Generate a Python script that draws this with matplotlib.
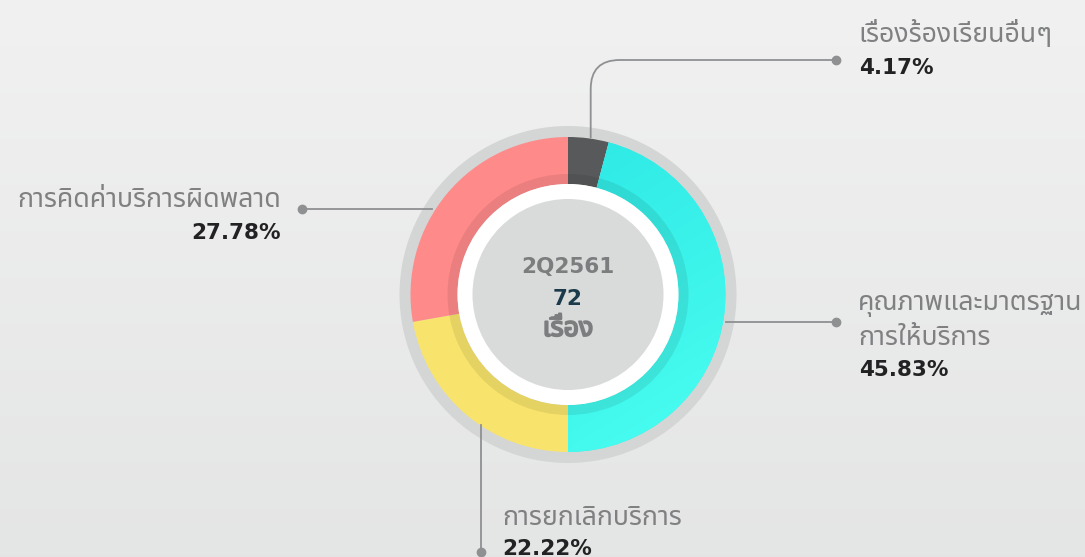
import matplotlib
matplotlib.use("Agg")
import matplotlib.pyplot as plt
import matplotlib.patheffects as pe
import numpy as np
from matplotlib.patches import Circle, Wedge, PathPatch
from matplotlib.path import Path

# ---- data ----
categories = ["เรื่องร้องเรียนอื่นๆ", "คุณภาพและมาตรฐาน\nการให้บริการ", "การยกเลิกบริการ", "การคิดค่าบริการผิดพลาด"]
shares = [4.17, 45.83, 22.22, 27.78]
pct_labels = ["4.17%", "45.83%", "22.22%", "27.78%"]
colors = ["#58595b", "#3cf2ea", "#f8e46c", "#ff8a8a"]
period = "2Q2561"
total = "72"
unit = "เรื่อง"

W, H = 1085, 557
fig = plt.figure(figsize=(W / 100, H / 100), dpi=100)
ax = fig.add_axes([0, 0, 1, 1])
ax.set_axis_off()

def Y(p):
    return H - p

# background gradient
grad = np.linspace(0, 1, 256).reshape(-1, 1)
top = np.array([0.945, 0.945, 0.945])
bot = np.array([0.895, 0.898, 0.898])
img = top + (bot - top) * grad[..., None]
ax.imshow(img, extent=[0, W, 0, H], origin='upper', aspect='auto', zorder=0)

cx, cy = 568, Y(294.5)
R_gray, R_out, R_in, R_shadow, R_white, R_center = 168.5, 157.5, 110.5, 120.5, 110.5, 95.5

ax.add_patch(Circle((cx, cy), R_gray, color="#d4d5d5", lw=0, zorder=1))
wedges, _ = ax.pie(shares, colors=colors, startangle=90, counterclock=False, radius=R_out,
                   center=(cx, cy), wedgeprops=dict(width=R_out - R_in, linewidth=0, zorder=2))

# subtle diagonal gradient on the cyan slice
n = 200
gy, gx = np.mgrid[0:1:n * 1j, 0:1:n * 1j]
t = np.clip(0.75 * gy + 0.45 * gx - 0.1, 0, 1)[..., None]
c0 = np.array([0x2a, 0xe6, 0xe4]) / 255
c1 = np.array([0x48, 0xfc, 0xef]) / 255
gimg = c0 + (c1 - c0) * t
im = ax.imshow(gimg, extent=[cx - R_out, cx + R_out, cy - R_out, cy + R_out],
               origin='upper', aspect='auto', zorder=2.5)
im.set_clip_path(wedges[1])

ax.add_patch(Wedge((cx, cy), R_shadow, 0, 360, width=R_shadow - R_in, color="black", alpha=0.08, lw=0, zorder=3))
ax.add_patch(Circle((cx, cy), R_white, color="white", lw=0, zorder=4))
ax.add_patch(Circle((cx, cy), R_center, color="#d9dada", lw=0, zorder=5))

ax.set_xlim(0, W)
ax.set_ylim(0, H)
ax.set_aspect('equal')

lc = "#8f9092"
lw = 1.3
ms = 6
# leader lines
x0, r = 590.7, 29
verts = [(x0, Y(138)), (x0, Y(60 + r)), (x0, Y(60)), (x0 + r, Y(60)), (836, Y(60))]
codes = [Path.MOVETO, Path.LINETO, Path.CURVE3, Path.CURVE3, Path.LINETO]
ax.add_patch(PathPatch(Path(verts, codes), fill=False, ec=lc, lw=lw, zorder=6))
ax.plot([836], [Y(60)], 'o', color=lc, ms=ms, zorder=7)
ax.plot([726, 836], [Y(322), Y(322)], color=lc, lw=lw, zorder=6)
ax.plot([836], [Y(322)], 'o', color=lc, ms=ms, zorder=7)
ax.plot([302, 432], [Y(209.3), Y(209.3)], color=lc, lw=lw, zorder=6)
ax.plot([302], [Y(209.3)], 'o', color=lc, ms=ms, zorder=7)
ax.plot([480.7, 480.7], [Y(425), Y(551.5)], color=lc, lw=lw, zorder=6)
ax.plot([480.7], [Y(551.5)], 'o', color=lc, ms=ms, zorder=7)

thai = ['Noto Sans Thai', 'DejaVu Sans']
num = ['DejaVu Sans']
lab_col = "#7f8082"
pct_col = "#222224"

fig.canvas.draw()
renderer = fig.canvas.get_renderer()
probe = ax.text(0, 0, categories[3], family=thai, fontsize=20)
w = probe.get_window_extent(renderer).width
probe.remove()
fs = 20 * 264 / w

def lab(x, y, s, ha='left'):
    ax.text(x, Y(y), s, family=thai, fontsize=fs, color=lab_col,
            ha=ha, va='baseline', zorder=8)

def pct(x, y, s, ha='left'):
    ax.text(x, Y(y), s, family=num, fontsize=15.5, fontweight='bold', color=pct_col,
            ha=ha, va='baseline', zorder=8)

lab(858, 42, categories[0])
pct(859, 74, pct_labels[0])
l1, l2 = categories[1].split("\n")
lab(858, 310, l1)
lab(858, 345, l2)
pct(859, 376.5, pct_labels[1])
lab(502, 525, categories[2])
pct(502, 555, pct_labels[2])
lab(281, 207, categories[3], ha='right')
pct(281, 239, pct_labels[3], ha='right')

ax.text(cx, Y(273), period, family=num, fontsize=15.5, fontweight='bold', color="#7b7d7e",
        ha='center', va='baseline', zorder=8)
ax.text(cx, Y(305), total, family=num, fontsize=15.5, fontweight='bold', color="#1b3a4b",
        ha='center', va='baseline', zorder=8)
ax.text(cx, Y(336), unit, family=thai, fontsize=fs, color="#7b7d7e",
        ha='center', va='baseline', zorder=8,
        path_effects=[pe.withStroke(linewidth=1.3, foreground="#7b7d7e")])

fig.savefig("out.png", dpi=100)
